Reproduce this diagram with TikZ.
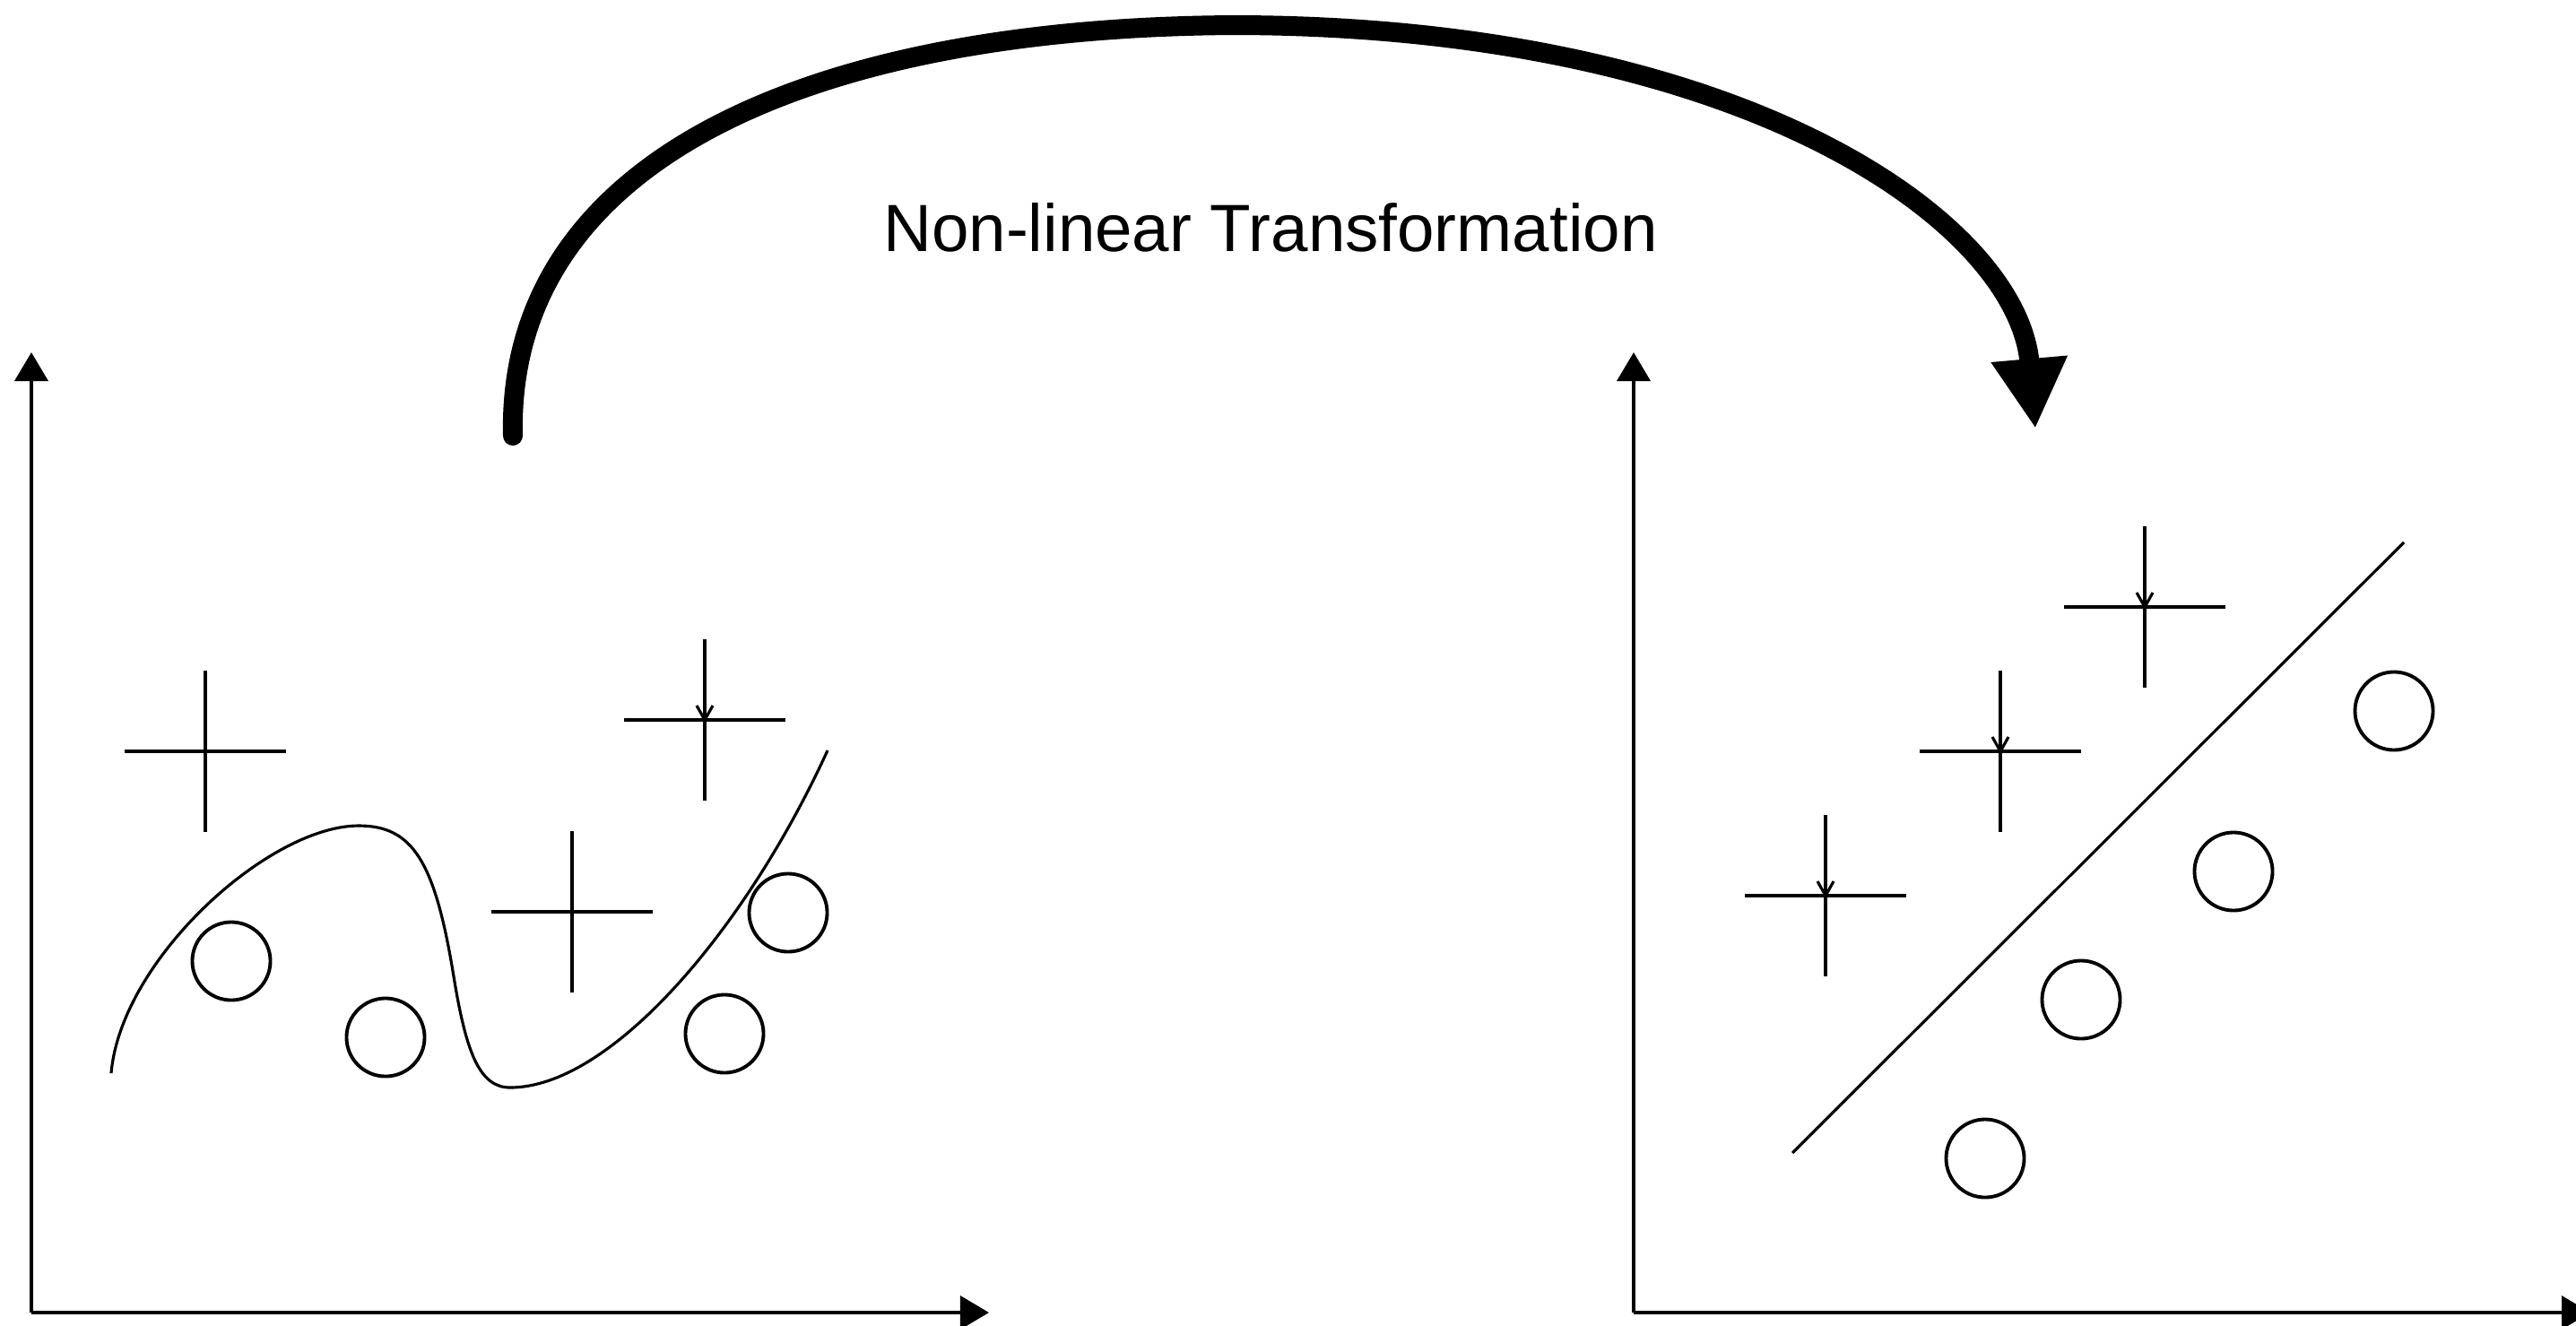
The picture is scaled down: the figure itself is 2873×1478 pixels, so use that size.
\documentclass[tikz,border=0pt]{standalone}
\usepackage{fontspec}
\setmainfont{Liberation Sans}
\usetikzlibrary{arrows.meta,shapes.misc}

\begin{document}
\begin{tikzpicture}[
  x=0.01cm, y=-0.01cm,
  axis/.style={line width=1.1pt, -{Triangle[length=0.32cm, width=0.37cm]}},
  plusmark/.style={cross out, draw, rotate=45, minimum size=1.273cm, inner sep=0pt, outer sep=0pt, line width=1.1pt},
  ring/.style={circle, draw, minimum size=0.87cm, inner sep=0pt, line width=1.1pt},
  tickmark/.style={line width=0.9pt},
  boundary/.style={line width=0.9pt},
  bigarrow/.style={line width=0.22cm, line cap=round, -{Triangle[length=0.78cm, width=0.8cm]}},
  title/.style={font=\fontsize{21.2}{25}\selectfont, inner sep=0pt}
]
\useasboundingbox (0,0) rectangle (2873,1478);
\clip (0,0) rectangle (2873,1478);

% Input space axes.
\coordinate (lo) at (35,1464);
\coordinate (ly) at (35,393);
\coordinate (lx) at (1103,1464);
\draw[axis] (lo) -- (ly);
\draw[axis] (lo) -- (lx);

% Feature space axes.
\coordinate (ro) at (1822,1464);
\coordinate (ry) at (1822,393);
\coordinate (rx) at (2889,1464);
\draw[axis] (ro) -- (ry);
\draw[axis] (ro) -- (rx);

% Samples in the input space.
\node[plusmark] (lp1) at (229,838) {};
\node[plusmark] (lp2) at (786,803) {};
\node[plusmark] (lp3) at (638,1017) {};
\draw[tickmark] (lp2.center) ++(-9,-16) -- (lp2.center) -- ++(9,-16);

\node[ring] (lc1) at (258,1072) {};
\node[ring] (lc2) at (430,1157) {};
\node[ring] (lc3) at (808,1153) {};
\node[ring] (lc4) at (879,1018) {};

% Curved decision boundary.
\draw[boundary] (124,1197)
  .. controls (135,1070) and (300,921) .. (400,921)
  .. controls (460,921) and (485,960) .. (506,1089)
  .. controls (520,1175) and (535,1213) .. (569,1213)
  .. controls (680,1213) and (830,1040) .. (923,837);

% Samples in the feature space.
\node[plusmark] (rp1) at (2036,999) {};
\node[plusmark] (rp2) at (2231,838) {};
\node[plusmark] (rp3) at (2392,677) {};
\foreach \p in {rp1,rp2,rp3}
  \draw[tickmark] (\p.center) ++(-9,-16) -- (\p.center) -- ++(9,-16);

\node[ring] (rc1) at (2670,793) {};
\node[ring] (rc2) at (2491,972) {};
\node[ring] (rc3) at (2321,1115) {};
\node[ring] (rc4) at (2214,1292) {};

% Linear decision boundary.
\coordinate (s1) at (1999,1286);
\coordinate (s2) at (2681,605);
\draw[boundary] (s1) -- (s2);

% Mapping between the two spaces.
\coordinate (from) at (572,486);
\coordinate (to) at (2270,478);
\draw[bigarrow] (from)
  .. controls (565,180) and (900,30) .. (1380,28)
  .. controls (1950,30) and (2250,250) .. (to);
\node[title, anchor=base] (caption) at (1417,280) {Non-linear Transformation};

\end{tikzpicture}
\end{document}
